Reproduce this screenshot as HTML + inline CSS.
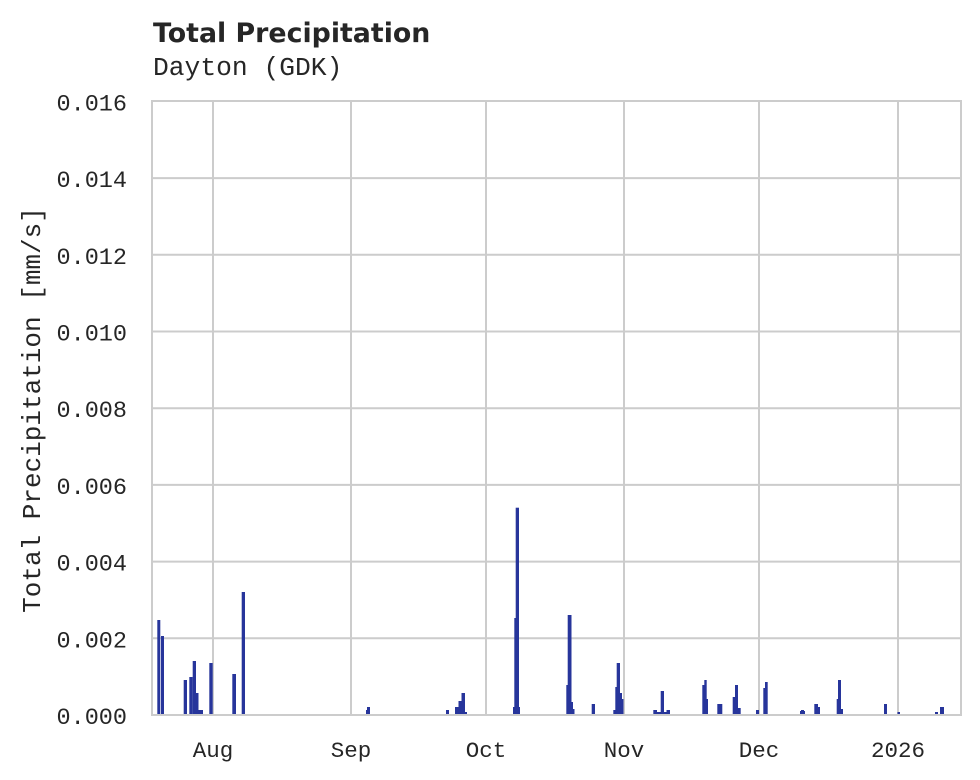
<!DOCTYPE html>
<html>
<head>
<meta charset="utf-8">
<style>
html,body{margin:0;padding:0;background:#fff;}
svg{display:block;}
.tk{font-family:"Liberation Mono","DejaVu Sans Mono",monospace;fill:#262626;}
</style>
</head>
<body>
<svg width="980" height="780" viewBox="0 0 980 780" xmlns="http://www.w3.org/2000/svg">
<rect x="0" y="0" width="980" height="780" fill="#fff"/>
<text x="153" y="42" font-family="DejaVu Sans, Liberation Sans, sans-serif" font-weight="bold" font-size="26.8" fill="#262626">Total Precipitation</text>
<text x="153" y="75" class="tk" font-size="26.3">Dayton (GDK)</text>
<g stroke="#cccccc" stroke-width="2">
<line x1="152" y1="638.3" x2="961" y2="638.3"/>
<line x1="152" y1="561.6" x2="961" y2="561.6"/>
<line x1="152" y1="484.9" x2="961" y2="484.9"/>
<line x1="152" y1="408.2" x2="961" y2="408.2"/>
<line x1="152" y1="331.5" x2="961" y2="331.5"/>
<line x1="152" y1="254.8" x2="961" y2="254.8"/>
<line x1="152" y1="178.1" x2="961" y2="178.1"/>
<line x1="213" y1="101" x2="213" y2="715"/>
<line x1="351" y1="101" x2="351" y2="715"/>
<line x1="486" y1="101" x2="486" y2="715"/>
<line x1="624" y1="101" x2="624" y2="715"/>
<line x1="759" y1="101" x2="759" y2="715"/>
<line x1="898" y1="101" x2="898" y2="715"/>
</g>
<g fill="#27359b">
<rect x="157.3" y="620" width="3" height="94"/>
<rect x="161" y="636" width="3" height="78"/>
<rect x="183.7" y="680" width="3.3" height="34"/>
<rect x="189.3" y="677" width="3.4" height="37"/>
<rect x="192.7" y="661" width="3.3" height="53"/>
<rect x="196" y="693" width="2.5" height="21"/>
<rect x="198.5" y="710" width="4.5" height="4"/>
<rect x="209.3" y="663" width="3.4" height="51"/>
<rect x="232.3" y="674" width="3.7" height="40"/>
<rect x="241.7" y="592" width="3.3" height="122"/>
<rect x="366" y="710" width="1" height="4"/>
<rect x="367" y="707" width="3" height="7"/>
<rect x="446" y="710" width="3" height="4"/>
<rect x="455" y="707" width="3.5" height="7"/>
<rect x="458.5" y="701" width="3" height="13"/>
<rect x="461.5" y="693" width="3.5" height="21"/>
<rect x="465" y="712" width="2" height="2"/>
<rect x="513" y="707" width="7" height="7"/>
<rect x="514.3" y="618" width="2" height="96"/>
<rect x="515.7" y="507.7" width="3.3" height="206.3"/>
<rect x="566.3" y="685" width="2" height="29"/>
<rect x="567.7" y="615" width="3.8" height="99"/>
<rect x="571" y="702" width="2" height="12"/>
<rect x="573" y="709" width="1.5" height="5"/>
<rect x="591.7" y="704" width="3.3" height="10"/>
<rect x="613.3" y="710" width="2.2" height="4"/>
<rect x="615.3" y="687" width="1.7" height="27"/>
<rect x="616.7" y="663" width="3.3" height="51"/>
<rect x="620" y="693" width="2" height="21"/>
<rect x="622" y="699" width="1.5" height="15"/>
<rect x="653.3" y="710" width="3.7" height="4"/>
<rect x="657" y="712" width="4" height="2"/>
<rect x="660.7" y="691" width="3.3" height="23"/>
<rect x="664" y="712" width="2.5" height="2"/>
<rect x="666.5" y="710" width="3.5" height="4"/>
<rect x="702.3" y="685" width="2.2" height="29"/>
<rect x="704.3" y="680" width="2.4" height="34"/>
<rect x="706.5" y="699" width="1.5" height="15"/>
<rect x="717.3" y="704" width="5" height="10"/>
<rect x="732.7" y="697" width="2.3" height="17"/>
<rect x="735" y="685" width="3" height="29"/>
<rect x="738" y="708" width="2.7" height="6"/>
<rect x="756" y="710" width="3" height="4"/>
<rect x="763.3" y="688" width="1.9" height="26"/>
<rect x="765" y="682" width="2.7" height="32"/>
<rect x="800" y="711" width="5" height="3"/>
<rect x="801" y="710" width="3" height="4"/>
<rect x="814.3" y="704" width="3.7" height="10"/>
<rect x="818" y="707" width="2" height="7"/>
<rect x="836.7" y="699" width="1.6" height="15"/>
<rect x="838" y="680" width="3" height="34"/>
<rect x="841" y="709" width="2" height="5"/>
<rect x="884" y="704" width="3" height="10"/>
<rect x="897.5" y="712" width="2.5" height="2"/>
<rect x="935" y="712" width="3" height="2"/>
<rect x="940" y="707" width="4" height="7"/>
</g>
<rect x="152" y="101" width="809" height="614" fill="none" stroke="#cccccc" stroke-width="2"/>
<g class="tk" font-size="23.5" text-anchor="end">
<text x="127" y="724">0.000</text>
<text x="127" y="647.3">0.002</text>
<text x="127" y="570.6">0.004</text>
<text x="127" y="493.9">0.006</text>
<text x="127" y="417.2">0.008</text>
<text x="127" y="340.5">0.010</text>
<text x="127" y="263.8">0.012</text>
<text x="127" y="187.1">0.014</text>
<text x="127" y="110.4">0.016</text>
</g>
<text class="tk" font-size="26" text-anchor="middle" transform="translate(40,410) rotate(-90)">Total Precipitation [mm/s]</text>
<g class="tk" font-size="22.5" text-anchor="middle">
<text x="213" y="757">Aug</text>
<text x="351" y="757">Sep</text>
<text x="486" y="757">Oct</text>
<text x="624" y="757">Nov</text>
<text x="759" y="757">Dec</text>
<text x="898" y="757">2026</text>
</g>
</svg>
</body>
</html>
